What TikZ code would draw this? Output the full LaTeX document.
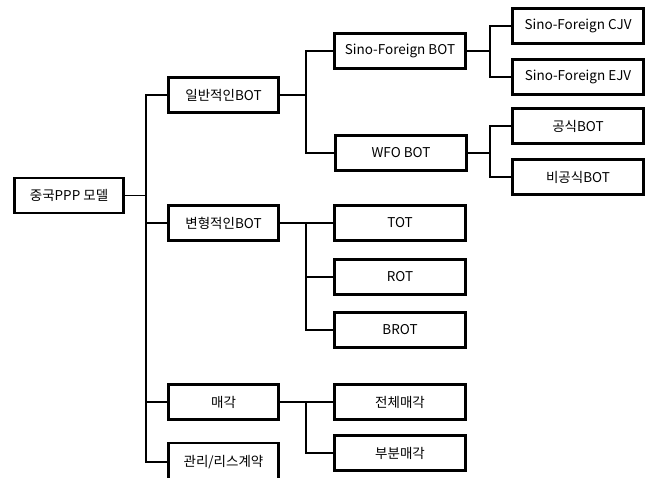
\documentclass[tikz,border=0pt]{standalone}
\usepackage{fontspec}
\setmainfont{Noto Sans CJK KR}
\usetikzlibrary{positioning}

\begin{document}
\begin{tikzpicture}[
  x=1pt, y=-1pt,
  font=\fontsize{13.5}{16}\selectfont,
  box/.style={rectangle, draw=black, line width=2.8pt, fill=white,
              inner sep=0pt, minimum height=35pt, align=center},
  kind/.style={box, minimum width=110pt},
  sub/.style={box, minimum width=131pt},
  link/.style={line width=1.3pt}
]
\useasboundingbox (0,0) rectangle (652,477);

% --- columns of the elbow connectors ---
\coordinate (colA) at (146,0);
\coordinate (colB) at (306,0);
\coordinate (colC) at (490,0);

% --- root ---
\node[box, minimum width=109pt] (root) at (69,195.5) {중국PPP 모델};

% --- first level ---
\node[kind] (gen)  at (223.5,95)  {일반적인BOT};
\node[kind] (var)  at (223.5,223) {변형적인BOT};
\node[kind] (sale) at (223.5,402) {매각};
\node[kind, minimum height=38pt] (mgmt) at (223.5,462) {관리/리스계약};

% --- second level ---
\node[sub] (sfbot) at (400,51)  {Sino-Foreign BOT};
\node[sub] (wfo)   at (401,153) {WFO BOT};
\foreach \n/\y/\t in {tot/223/TOT, rot/277/ROT, brot/330/BROT,
                      full/402/전체매각, part/453/부분매각} {
  \node[sub] (\n) at (400,\y) {\t};
}

% --- third level ---
\foreach \n/\y/\t in {cjv/26/Sino-Foreign CJV, ejv/77/Sino-Foreign EJV,
                      pub/126/공식BOT, npub/177/비공식BOT} {
  \node[sub] (\n) at (578,\y) {\t};
}

% --- root to first level ---
\foreach \k in {gen,var,sale,mgmt}
  \draw[link] (root.east) -- (root.east -| colA) |- (\k.west);

% --- first to second level ---
\foreach \k in {sfbot,wfo} \draw[link] (gen.east) -- (gen.east -| colB) |- (\k.west);
\foreach \k in {tot,rot,brot} \draw[link] (var.east) -- (var.east -| colB) |- (\k.west);
\foreach \k in {full,part} \draw[link] (sale.east) -- (sale.east -| colB) |- (\k.west);

% --- second to third level ---
\foreach \k in {cjv,ejv} \draw[link] (sfbot.east) -- (sfbot.east -| colC) |- (\k.west);
\foreach \k in {pub,npub} \draw[link] (wfo.east) -- (wfo.east -| colC) |- (\k.west);
\end{tikzpicture}
\end{document}
